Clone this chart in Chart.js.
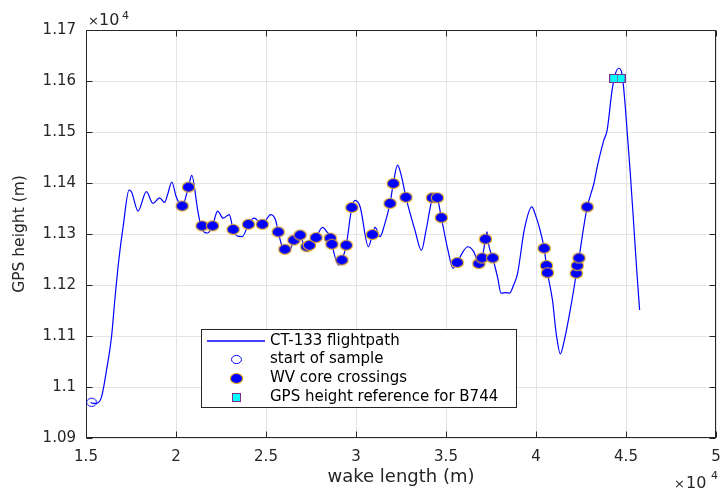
<!DOCTYPE html>
<html>
<head>
<meta charset="utf-8">
<script src="https://cdn.jsdelivr.net/npm/chart.js@4.4.0/dist/chart.umd.min.js"></script>
<style>
  html, body { margin: 0; padding: 0; background: #fff; }
  canvas { display: block; }
</style>
</head>
<body>
<canvas id="wake-chart" width="721" height="493"></canvas>
<script>
// flight path: wake length (m) vs GPS height (m)
var pathX = [15260, 15387, 15591, 15867, 16144, 16420, 16602, 16823, 17061, 17392,
  17525, 17890, 18354, 18718, 19088, 19365, 19547, 19768, 20011, 20193,
  20342, 20691, 20873, 21205, 21392, 21757, 22033, 22309, 22624, 22956,
  23177, 23398, 23691, 24022, 24337, 24613, 24796, 25260, 25536, 25680,
  25901, 26050, 26271, 26547, 26895, 27100, 27265, 27415, 27779, 28138,
  28387, 28608, 28663, 29033, 29216, 29459, 29768, 29956, 30232, 30690,
  30912, 31061, 31337, 31575, 31890, 32072, 32310, 32514, 32774, 33271,
  33636, 33895, 34244, 34376, 34520, 34741, 35111, 35387, 35625, 35939,
  36215, 36547, 36823, 37006, 37194, 37282, 37376, 37597, 37873, 38055,
  38331, 38536, 38757, 38978, 39348, 39768, 39972, 40177, 40453, 40580,
  40636, 40912, 41133, 41354, 41575, 41835, 42238, 42293, 42387, 42624,
  42846, 43215, 43398, 43768, 43950, 44227, 44409, 44597, 44779, 44962,
  45238, 45425, 45608, 45757];
var pathY = [10970, 10968, 10968, 10981, 11034, 11099, 11171, 11249, 11314, 11386,
  11383, 11345, 11383, 11360, 11371, 11362, 11379, 11402, 11373, 11360,
  11355, 11392, 11415, 11347, 11314, 11302, 11316, 11345, 11331, 11338,
  11309, 11296, 11295, 11319, 11331, 11324, 11319, 11338, 11327, 11304,
  11275, 11270, 11265, 11288, 11298, 11278, 11275, 11278, 11293, 11313,
  11304, 11291, 11280, 11239, 11249, 11278, 11352, 11366, 11353, 11275,
  11299, 11313, 11295, 11317, 11360, 11399, 11435, 11415, 11372, 11308,
  11268, 11308, 11371, 11376, 11371, 11332, 11268, 11233, 11244, 11265,
  11275, 11265, 11242, 11253, 11290, 11304, 11278, 11253, 11214, 11184,
  11185, 11184, 11200, 11223, 11308, 11353, 11337, 11314, 11272, 11238,
  11224, 11171, 11102, 11065, 11092, 11138, 11223, 11238, 11253, 11308,
  11353, 11399, 11431, 11484, 11503, 11582, 11614, 11625, 11614, 11549,
  11419, 11321, 11223, 11151];

var startX = [15315];
var startY = [10970];

// WV core crossings
var crossX = [20342, 20691, 21448, 22033, 23177, 24022, 24796, 25680, 26050, 26547,
  26895, 27265, 27415, 27779, 28575, 28663, 29216, 29459, 29768, 30912,
  31890, 32072, 32774, 34244, 34520, 34741, 35625, 36824, 37006, 37194,
  37597, 40453, 40580, 40636, 42238, 42293, 42387, 42846];
var crossY = [11355, 11392, 11316, 11316, 11309, 11319, 11319, 11304, 11270, 11288,
  11298, 11275, 11278, 11293, 11292, 11280, 11249, 11278, 11352, 11299,
  11360, 11399, 11372, 11371, 11371, 11332, 11244, 11242, 11253, 11290,
  11253, 11272, 11238, 11224, 11223, 11238, 11253, 11353];

// GPS height reference for B744
var refX = [44321, 44724];
var refY = [11605, 11605];

var xTickLabels = ['1.5', '2', '2.5', '3', '3.5', '4', '4.5', '5'];
var yTickLabels = ['1.09', '1.1', '1.11', '1.12', '1.13', '1.14', '1.15', '1.16', '1.17'];
var legendLabels = ['CT-133 flightpath', 'start of sample', 'WV core crossings', 'GPS height reference for B744'];

var FONT = '"DejaVu Sans", "Liberation Sans", Arial, sans-serif';

function toPoints(xs, ys) {
  return xs.map(function (x, i) { return { x: x, y: ys[i] }; });
}

function markerImage(w, h, draw) {
  var c = document.createElement('canvas');
  c.width = w; c.height = h;
  draw(c.getContext('2d'), w, h);
  return c;
}

var crossImg = markerImage(15, 13, function (g, w, h) {
  g.beginPath();
  g.ellipse(w / 2, h / 2, 6.2, 5, 0, 0, Math.PI * 2);
  g.fillStyle = '#0000ff'; g.fill();
  g.lineWidth = 1.1; g.strokeStyle = '#EDB120'; g.stroke();
});
var startImg = markerImage(13, 11, function (g, w, h) {
  g.beginPath();
  g.ellipse(w / 2, h / 2, 5, 4.1, 0, 0, Math.PI * 2);
  g.lineWidth = 1; g.strokeStyle = '#0000ff'; g.stroke();
});
var refImg = markerImage(9, 9, function (g) {
  g.fillStyle = '#00ffff'; g.fillRect(0.5, 0.5, 8, 8);
  g.lineWidth = 1; g.strokeStyle = '#7E2F8E'; g.strokeRect(0.5, 0.5, 8, 8);
});

var axesBox = {
  id: 'axesBox',
  beforeDatasetsDraw: function (chart) {
    var ctx = chart.ctx, a = chart.chartArea, xs = chart.scales.x, ys = chart.scales.y;
    var l = Math.round(a.left) + 0.5, r = Math.round(a.right) - 0.5;
    var t = Math.round(a.top) + 0.5, b = Math.round(a.bottom) - 0.5;
    ctx.save();
    ctx.strokeStyle = '#262626';
    ctx.lineWidth = 1;
    ctx.strokeRect(l, t, r - l, b - t);
    ctx.beginPath();
    xs.ticks.forEach(function (tk) {
      var px = Math.round(xs.getPixelForValue(tk.value)) + 0.5;
      ctx.moveTo(px, b); ctx.lineTo(px, b - 6);
      ctx.moveTo(px, t); ctx.lineTo(px, t + 6);
    });
    ys.ticks.forEach(function (tk) {
      var py = Math.round(ys.getPixelForValue(tk.value)) + 0.5;
      ctx.moveTo(l, py); ctx.lineTo(l + 6, py);
      ctx.moveTo(r, py); ctx.lineTo(r - 6, py);
    });
    ctx.stroke();
    ctx.restore();
  },
  afterDraw: function (chart) {
    var ctx = chart.ctx, a = chart.chartArea;
    ctx.save();
    ctx.fillStyle = '#262626';
    ctx.textBaseline = 'alphabetic';
    // x10^4 on y axis
    ctx.font = '13px ' + FONT;
    ctx.fillText('\u00d7', a.left + 2, 25);
    ctx.font = '16px ' + FONT;
    ctx.fillText('10', a.left + 13, 25);
    ctx.font = '11px ' + FONT;
    ctx.fillText('4', a.left + 36, 19);
    // x10^4 on x axis
    ctx.font = '13px ' + FONT;
    ctx.fillText('\u00d7', 674, 488);
    ctx.font = '16px ' + FONT;
    ctx.fillText('10', 686, 488);
    ctx.font = '11px ' + FONT;
    ctx.fillText('4', 711, 479);

    // legend
    var lx = 201.5, ly = 329.5, lw = 315, lh = 78;
    ctx.fillStyle = '#ffffff';
    ctx.fillRect(lx, ly, lw, lh);
    ctx.strokeStyle = '#262626';
    ctx.lineWidth = 1;
    ctx.strokeRect(lx, ly, lw, lh);
    var rows = [341, 359.5, 378, 397];
    ctx.strokeStyle = '#0000ff';
    ctx.lineWidth = 1.3;
    ctx.beginPath();
    ctx.moveTo(207, rows[0]); ctx.lineTo(265, rows[0]);
    ctx.stroke();
    var icons = [null, startImg, crossImg, refImg];
    icons.forEach(function (img, i) {
      if (img) ctx.drawImage(img, Math.round(236.5 - img.width / 2), Math.round(rows[i] - img.height / 2));
    });
    ctx.fillStyle = '#000000';
    ctx.font = '15px ' + FONT;
    ctx.textBaseline = 'middle';
    legendLabels.forEach(function (txt, i) {
      ctx.fillText(txt, 270, rows[i]);
    });
    ctx.restore();
  }
};

var ctx = document.getElementById('wake-chart').getContext('2d');
var myChart = new Chart(ctx, {
  type: 'line',
  data: {
    datasets: [{
      label: legendLabels[1],
      data: toPoints(startX, startY),
      showLine: false,
      pointStyle: startImg,
      order: 1
    }, {
      label: legendLabels[2],
      data: toPoints(crossX, crossY),
      showLine: false,
      pointStyle: crossImg,
      order: 2
    }, {
      label: legendLabels[3],
      data: toPoints(refX, refY),
      showLine: false,
      pointStyle: refImg,
      order: 0
    }, {
      label: legendLabels[0],
      data: toPoints(pathX, pathY),
      borderColor: '#0000ff',
      borderWidth: 1.2,
      pointRadius: 0,
      cubicInterpolationMode: 'monotone',
      fill: false,
      order: 3
    }]
  },
  options: {
    responsive: false,
    animation: false,
    layout: { padding: { top: 30, right: 2, left: 0, bottom: 0 } },
    plugins: {
      legend: { display: false },
      tooltip: { enabled: false }
    },
    scales: {
      x: {
        type: 'linear',
        min: 15000,
        max: 50000,
        ticks: {
          stepSize: 5000,
          padding: 10,
          color: '#262626',
          font: { family: FONT, size: 15 },
          maxRotation: 0,
          callback: function (v, i) { return xTickLabels[i]; }
        },
        grid: { color: '#e4e4e4', lineWidth: 1, drawTicks: false },
        border: { display: false },
        title: {
          display: true,
          text: 'wake length (m)',
          color: '#262626',
          font: { family: FONT, size: 18 },
          padding: { top: 0, bottom: 5 }
        },
        afterFit: function (s) { s.height = 55; s.paddingLeft = 0; s.paddingRight = 0; }
      },
      y: {
        type: 'linear',
        min: 10900,
        max: 11700,
        ticks: {
          stepSize: 100,
          padding: 10,
          color: '#262626',
          font: { family: FONT, size: 15 },
          callback: function (v, i) { return yTickLabels[i]; }
        },
        grid: { color: '#e4e4e4', lineWidth: 1, drawTicks: false },
        border: { display: false },
        title: {
          display: true,
          text: 'GPS height (m)',
          color: '#262626',
          font: { family: FONT, size: 15.5 },
          padding: { top: 11, bottom: 0 }
        },
        afterFit: function (s) { s.width = 86; s.paddingTop = 0; s.paddingBottom = 0; }
      }
    }
  },
  plugins: [axesBox]
});
</script>
</body>
</html>
